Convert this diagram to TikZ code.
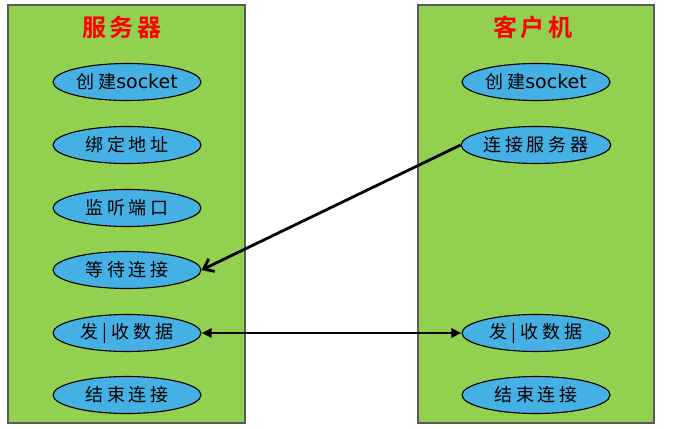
\documentclass[tikz,border=0pt]{standalone}
\usepackage{fontspec}
\newfontfamily\cjk[LetterSpace=22]{Noto Sans CJK SC}
\newfontfamily\cjkb[LetterSpace=15]{Noto Sans CJK SC Bold}
\newfontfamily\comic{DejaVu Sans}
\usetikzlibrary{arrows.meta,shapes.geometric}
\definecolor{boxgreen}{HTML}{92D050}
\definecolor{ellblue}{HTML}{45B0E3}
\definecolor{boxedge}{HTML}{5A5A5A}
\begin{document}
\begin{tikzpicture}[x=1pt,y=-1pt,
  panel/.style={draw=boxedge,line width=1.5pt,fill=boxgreen},
  stepell/.style={draw=black,line width=1.1pt,fill=ellblue,ellipse,minimum width=148pt,minimum height=37pt,inner sep=0pt,font=\cjk\fontsize{18}{18}\selectfont},
  title/.style={text=red,font=\cjkb\fontsize{24}{24}\selectfont},
  conn/.style={line width=2.8pt,black}]
\useasboundingbox (0,0) rectangle (676,428);
\draw[panel] (8,5) rectangle (245,423);
\draw[panel] (418,5) rectangle (654,423);
\node[title] (ts) at (122,27) {服务器};
\node[title] (tc) at (533,27) {客户机};
\node[stepell] (s1) at (127,82) {创建{\comic\fontsize{19}{19}\selectfont socket}};
\node[stepell] (s2) at (127,145) {绑定地址};
\node[stepell] (s3) at (127,208) {监听端口};
\node[stepell] (s4) at (127,270) {等待连接};
\node[stepell] (s5) at (127,333) {发|收数据};
\node[stepell] (s6) at (127,395) {结束连接};
\node[stepell] (c1) at (536,82) {创建{\comic\fontsize{19}{19}\selectfont socket}};
\node[stepell] (c2) at (536,145) {连接服务器};
\node[stepell] (c5) at (536,333) {发|收数据};
\node[stepell] (c6) at (536,395) {结束连接};
\draw[conn,-{Straight Barb[length=9pt,width=14pt]}] (c2.west) -- (s4.east);
\draw[conn,{Triangle[length=10pt,width=9pt]}-{Triangle[length=10pt,width=9pt]}] (s5.east) -- (c5.west);
\end{tikzpicture}
\end{document}
